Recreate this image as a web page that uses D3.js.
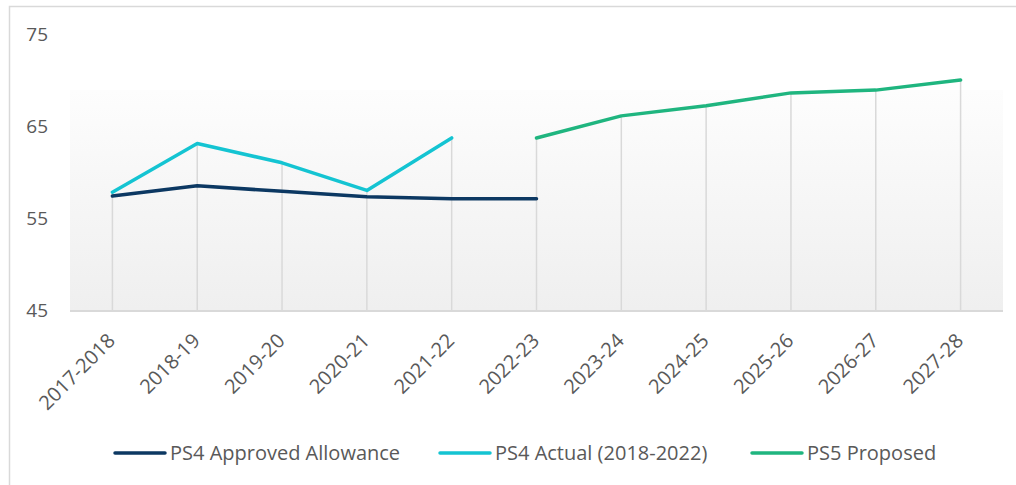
<!DOCTYPE html>
<html>
<head>
<meta charset="utf-8">
<script src="https://cdn.jsdelivr.net/npm/d3@7"></script>
<style>
  html, body { margin: 0; padding: 0; background: #fff; }
  svg { display: block; font-family: "Open Sans", sans-serif; }
</style>
</head>
<body>
<svg id="chart" width="1016" height="485"></svg>
<script>
// Financial years on the x axis
const years = ["2017-2018", "2018-19", "2019-20", "2020-21", "2021-22", "2022-23",
               "2023-24", "2024-25", "2025-26", "2026-27", "2027-28"];

// Series values (null where a series has no value)
const ps4Approved = [57.4, 58.5, 57.9, 57.3, 57.1, 57.1, null, null, null, null, null];
const ps4Actual   = [57.8, 63.1, 61.0, 58.0, 63.7, null, null, null, null, null, null];
const ps5Proposed = [null, null, null, null, null, 63.7, 66.1, 67.2, 68.6, 68.9, 70.0];

const yTicks = [45, 55, 65, 75];

const seriesNames  = ["PS4 Approved Allowance", "PS4 Actual (2018-2022)", "PS5 Proposed"];
const seriesColors = ["#0c3862", "#14c4d2", "#1fb57f"];
const seriesValues = [ps4Approved, ps4Actual, ps5Proposed];

const svg = d3.select("#chart");

// outer frame
svg.append("rect")
  .attr("x", 9.5).attr("y", 6.5)
  .attr("width", 1016).attr("height", 485)
  .attr("fill", "none").attr("stroke", "#d9d9d9").attr("stroke-width", 1.5);

const plot = { left: 70, right: 1003, top: 90, bottom: 310 };

const x = d3.scaleBand().domain(years).range([plot.left, plot.right]);
const xc = d => x(d) + x.bandwidth() / 2;
const y = d3.scaleLinear().domain([45, 75]).range([310, 34]);

// shaded plot panel
const defs = svg.append("defs");
const grad = defs.append("linearGradient").attr("id", "panelFill")
  .attr("x1", 0).attr("y1", 0).attr("x2", 0).attr("y2", 1);
grad.append("stop").attr("offset", "0%").attr("stop-color", "#fdfdfd");
grad.append("stop").attr("offset", "100%").attr("stop-color", "#efefef");

svg.append("rect")
  .attr("x", plot.left).attr("y", plot.top)
  .attr("width", plot.right - plot.left).attr("height", plot.bottom - plot.top)
  .attr("fill", "url(#panelFill)");

// drop lines from the highest point of each year down to the axis
const tops = years.map((yr, i) => {
  const vals = seriesValues.map(s => s[i]).filter(v => v != null);
  return { yr, v: d3.max(vals) };
});
svg.append("g").selectAll("line").data(tops).join("line")
  .attr("x1", d => xc(d.yr)).attr("x2", d => xc(d.yr))
  .attr("y1", d => y(d.v)).attr("y2", y(45))
  .attr("stroke", "#d9d9d9").attr("stroke-width", 1.5);

// x axis baseline
svg.append("line")
  .attr("x1", plot.left).attr("x2", plot.right)
  .attr("y1", y(45) + 1).attr("y2", y(45) + 1)
  .attr("stroke", "#d9d9d9").attr("stroke-width", 2);

// y axis labels
const yAxis = d3.axisLeft(y).tickValues(yTicks).tickSize(0).tickPadding(0);
const yg = svg.append("g").attr("transform", "translate(48,0)").call(yAxis);
yg.select(".domain").remove();
yg.selectAll("text")
  .attr("fill", "#595959").attr("font-size", 19)
  .attr("font-family", "'Open Sans', sans-serif");

// x axis labels, rotated
const xAxis = d3.axisBottom(x).tickSize(0).tickPadding(0);
const xg = svg.append("g").attr("transform", `translate(0,${y(45)})`).call(xAxis);
xg.select(".domain").remove();
xg.selectAll("text")
  .attr("fill", "#595959").attr("font-size", 20)
  .attr("font-family", "'Open Sans', sans-serif")
  .attr("text-anchor", "end")
  .attr("dy", 0).attr("y", 0)
  .attr("transform", "translate(4,32) rotate(-45)");

// series lines
const line = d3.line()
  .defined(d => d.v != null)
  .x(d => xc(d.yr))
  .y(d => y(d.v));

seriesValues.forEach((vals, k) => {
  svg.append("path")
    .datum(years.map((yr, i) => ({ yr, v: vals[i] })))
    .attr("fill", "none")
    .attr("stroke", seriesColors[k])
    .attr("stroke-width", 3.5)
    .attr("stroke-linejoin", "round")
    .attr("stroke-linecap", "round")
    .attr("d", line);
});

// legend
const legendX = [115, 440, 752];
const lg = svg.append("g").selectAll("g").data(seriesNames).join("g")
  .attr("transform", (d, i) => `translate(${legendX[i]},453)`);
lg.append("line")
  .attr("x1", 0).attr("x2", 50).attr("y1", 0).attr("y2", 0)
  .attr("stroke", (d, i) => seriesColors[i])
  .attr("stroke-width", 3.5).attr("stroke-linecap", "round");
lg.append("text")
  .attr("x", 55).attr("y", 0).attr("dy", "0.35em")
  .attr("fill", "#595959").attr("font-size", 20)
  .text(d => d);
</script>
</body>
</html>
